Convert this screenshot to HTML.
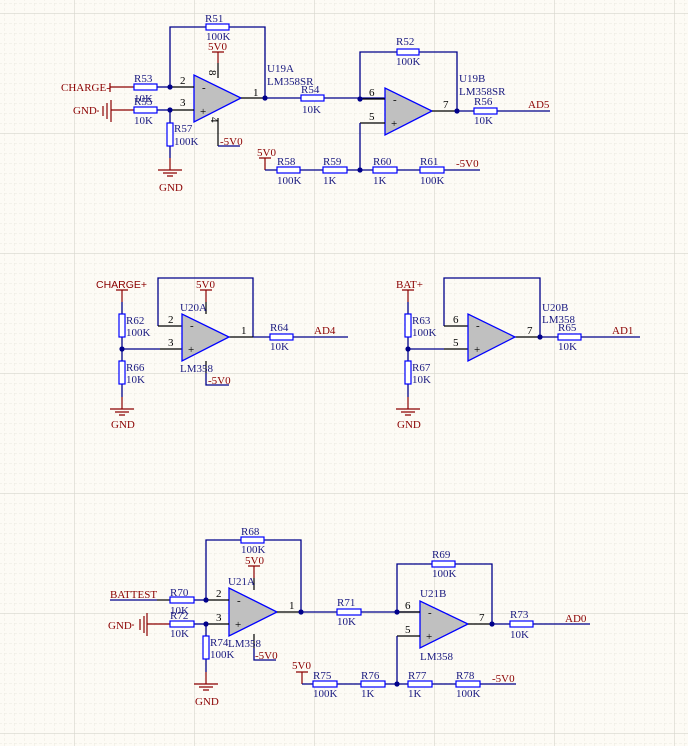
<!DOCTYPE html>
<html><head><meta charset="utf-8"><style>
html,body{margin:0;padding:0;background:#fdfbf5}
svg{display:block}
.w{stroke:#00008b;stroke-width:1.3;fill:none}
.p{stroke:#000;stroke-width:1.2;fill:none}
.r{stroke:#8b0000;stroke-width:1.2;fill:none}
.res{fill:#fff;stroke:#0000ff;stroke-width:1.2}
.oa{fill:#c0c0c0;stroke:#0000ff;stroke-width:1.3}
.t{font-family:"Liberation Serif",serif;font-size:11px;fill:#1a1a80}
.rt{font-family:"Liberation Serif",serif;font-size:11px;fill:#8b0000}
.pt{font-family:"Liberation Serif",serif;font-size:11px;fill:#000}
.d{fill:#00008b}
</style></head><body>
<svg width="688" height="746" viewBox="0 0 688 746" xmlns="http://www.w3.org/2000/svg">
<defs>
<pattern id="mn" x="4" y="3" width="10" height="10" patternUnits="userSpaceOnUse">
<path d="M0 0H10M0 0V10" stroke="#ece9df" stroke-width="1" stroke-dasharray="3,2" fill="none"/>
</pattern>
<pattern id="mj" x="74" y="13" width="120" height="120" patternUnits="userSpaceOnUse">
<path d="M0 0H120M0 0V120" stroke="#d6d5cc" stroke-width="1.2" fill="none"/>
</pattern>
</defs>
<rect width="688" height="746" fill="#fdfbf5"/>
<rect width="688" height="746" fill="url(#mn)"/>
<rect width="688" height="746" fill="url(#mj)"/>

<!-- ===== SECTION 1 ===== -->
<!-- U19A -->
<path class="w" d="M170 87V27H265V98"/>
<rect class="res" x="206" y="24" width="23" height="6"/>
<text class="t" x="205" y="22">R51</text><text class="t" x="206" y="40">100K</text>
<text class="rt" x="208" y="50">5V0</text>
<path class="r" d="M212 52H224M218 52V63"/><path class="p" d="M218 63V78"/>
<text class="pt" transform="translate(209,70) rotate(90)">8</text>
<polygon class="oa" points="194,75 194,122 241,98"/>
<text class="pt" x="202" y="91">-</text><text class="pt" x="200" y="115">+</text>
<path class="p" d="M170 87H194M170 110H194M241 98H265M218 118V146"/>
<path class="w" d="M218 146H240"/>
<text class="pt" transform="translate(211,117) rotate(90)">4</text>
<text class="rt" x="220" y="145">-5V0</text>
<text class="pt" x="180" y="84">2</text><text class="pt" x="180" y="106">3</text><text class="pt" x="253" y="96">1</text>
<text class="rt" x="61" y="91" style="font-family:'Liberation Serif',serif">CHARGE-</text>
<path class="r" d="M110 83V92M110 87H134"/>
<path class="w" d="M157 87H170"/>
<rect class="res" x="134" y="84" width="23" height="6"/>
<text class="t" x="134" y="82">R53</text><text class="t" x="134" y="102">10K</text>
<text class="rt" x="73" y="114">GND</text>
<circle cx="98" cy="111" r="0.8" fill="#8b0000"/>
<path class="r" d="M103 106V116M107 103V119M111 100V122M111 110H134"/>
<path class="w" d="M157 110H170"/>
<rect class="res" x="134" y="107" width="23" height="6"/>
<text class="t" x="134" y="105">R55</text><text class="t" x="134" y="124">10K</text>
<circle class="d" cx="170" cy="87" r="2.6"/><circle class="d" cx="170" cy="110" r="2.6"/>
<path class="w" d="M170 110V123M170 146V158"/><path class="r" d="M170 158V170M158 170H182M163 173H177M167 176H173"/>
<rect class="res" x="167" y="123" width="6" height="23"/>
<text class="t" x="174" y="132">R57</text><text class="t" x="174" y="145">100K</text>
<text class="rt" x="159" y="191">GND</text>
<!-- output to U19B -->
<path class="w" d="M265 98H301M324 98H385"/>
<circle class="d" cx="265" cy="98" r="2.6"/>
<rect class="res" x="301" y="95" width="23" height="6"/>
<text class="t" x="267" y="72">U19A</text><text class="t" x="267" y="85">LM358SR</text>
<text class="t" x="301" y="93">R54</text><text class="t" x="302" y="113">10K</text>
<!-- U19B -->
<path class="w" d="M360 99V52H457V111"/>
<rect class="res" x="397" y="49" width="22" height="6"/>
<text class="t" x="396" y="45">R52</text><text class="t" x="396" y="65">100K</text>
<polygon class="oa" points="385,88 385,135 432,111"/>
<text class="pt" x="393" y="103">-</text><text class="pt" x="391" y="127">+</text>
<path class="p" d="M360 99H385M360 123H385M432 111H457"/>
<path class="w" d="M360 123V170"/>
<circle class="d" cx="360" cy="99" r="2.6"/><circle class="d" cx="457" cy="111" r="2.6"/>
<text class="pt" x="369" y="96">6</text><text class="pt" x="369" y="120">5</text><text class="pt" x="443" y="108">7</text>
<text class="t" x="459" y="82">U19B</text><text class="t" x="459" y="95">LM358SR</text>
<path class="w" d="M457 111H474M497 111H550"/>
<rect class="res" x="474" y="108" width="23" height="6"/>
<text class="t" x="474" y="105">R56</text><text class="t" x="474" y="124">10K</text>
<text class="rt" x="528" y="108">AD5</text>
<text class="rt" x="257" y="156">5V0</text>
<path class="r" d="M259 158H271M265 158V170"/>
<path class="w" d="M265 170H480"/>
<rect class="res" x="277" y="167" width="23" height="6"/>
<rect class="res" x="323" y="167" width="24" height="6"/>
<rect class="res" x="373" y="167" width="24" height="6"/>
<rect class="res" x="420" y="167" width="24" height="6"/>
<circle class="d" cx="360" cy="170" r="2.6"/>
<text class="t" x="277" y="165">R58</text><text class="t" x="277" y="184">100K</text>
<text class="t" x="323" y="165">R59</text><text class="t" x="323" y="184">1K</text>
<text class="t" x="373" y="165">R60</text><text class="t" x="373" y="184">1K</text>
<text class="t" x="420" y="165">R61</text><text class="t" x="420" y="184">100K</text>
<text class="rt" x="456" y="167">-5V0</text>

<!-- ===== SECTION 2 ===== -->
<text class="rt" x="96" y="288" style="font-family:'Liberation Sans',sans-serif;font-size:10.5px">CHARGE+</text>
<path class="r" d="M116 290H128M122 290V302"/>
<path class="w" d="M122 302V314M122 337V361M122 384V397"/>
<path class="r" d="M122 397V409M110 409H134M115 412H129M119 415H125"/>
<rect class="res" x="119" y="314" width="6" height="23"/>
<rect class="res" x="119" y="361" width="6" height="23"/>
<circle class="d" cx="122" cy="349" r="2.6"/>
<text class="t" x="126" y="324">R62</text><text class="t" x="126" y="336">100K</text>
<text class="t" x="126" y="371">R66</text><text class="t" x="126" y="383">10K</text>
<text class="rt" x="111" y="428">GND</text>
<path class="w" d="M122 349H160M158 326V278H253V337"/>
<path class="p" d="M160 349H182M158 326H182M229 337H253M206 302V314M206 361V373"/>
<polygon class="oa" points="182,314 182,361 229,337"/>
<text class="pt" x="190" y="329">-</text><text class="pt" x="188" y="353">+</text>
<text class="rt" x="196" y="288">5V0</text>
<path class="r" d="M200 290H212M206 290V302"/>
<path class="w" d="M206 373V385H229"/>
<text class="rt" x="208" y="384">-5V0</text>
<text class="pt" x="168" y="323">2</text><text class="pt" x="168" y="346">3</text><text class="pt" x="241" y="334">1</text>
<text class="t" x="180" y="311">U20A</text><text class="t" x="180" y="372">LM358</text>
<path class="w" d="M253 337H270M293 337H348"/>
<rect class="res" x="270" y="334" width="23" height="6"/>
<text class="t" x="270" y="331">R64</text><text class="t" x="270" y="350">10K</text>
<text class="rt" x="314" y="334">AD4</text>

<text class="rt" x="396" y="288">BAT+</text>
<path class="r" d="M402 290H414M408 290V302"/>
<path class="w" d="M408 302V314M408 337V361M408 384V397"/>
<path class="r" d="M408 397V409M396 409H420M401 412H415M405 415H411"/>
<rect class="res" x="405" y="314" width="6" height="23"/>
<rect class="res" x="405" y="361" width="6" height="23"/>
<circle class="d" cx="408" cy="349" r="2.6"/>
<text class="t" x="412" y="324">R63</text><text class="t" x="412" y="336">100K</text>
<text class="t" x="412" y="371">R67</text><text class="t" x="412" y="383">10K</text>
<text class="rt" x="397" y="428">GND</text>
<path class="w" d="M408 349H444M444 326V278H540V337"/>
<path class="p" d="M444 349H468M444 326H468M515 337H540"/>
<polygon class="oa" points="468,314 468,361 515,337"/>
<text class="pt" x="476" y="329">-</text><text class="pt" x="474" y="353">+</text>
<text class="pt" x="453" y="323">6</text><text class="pt" x="453" y="346">5</text><text class="pt" x="527" y="334">7</text>
<circle class="d" cx="540" cy="337" r="2.6"/>
<text class="t" x="542" y="311">U20B</text><text class="t" x="542" y="323">LM358</text>
<path class="w" d="M540 337H558M581 337H640"/>
<rect class="res" x="558" y="334" width="23" height="6"/>
<text class="t" x="558" y="331">R65</text><text class="t" x="558" y="350">10K</text>
<text class="rt" x="612" y="334">AD1</text>

<!-- ===== SECTION 3 ===== -->
<path class="w" d="M206 600V540H301V612"/>
<rect class="res" x="241" y="537" width="23" height="6"/>
<text class="t" x="241" y="535">R68</text><text class="t" x="241" y="553">100K</text>
<text class="rt" x="245" y="564">5V0</text>
<path class="r" d="M248 566H260M254 566V578"/><path class="p" d="M254 578V590M254 634V648"/>
<polygon class="oa" points="229,588 229,636 277,612"/>
<text class="pt" x="237" y="604">-</text><text class="pt" x="235" y="628">+</text>
<path class="p" d="M206 600H229M206 624H229M277 612H301"/>
<path class="w" d="M254 648V660H276"/>
<text class="rt" x="255" y="659">-5V0</text>
<text class="pt" x="216" y="597">2</text><text class="pt" x="216" y="621">3</text><text class="pt" x="289" y="609">1</text>
<text class="t" x="228" y="585">U21A</text><text class="t" x="228" y="647">LM358</text>
<text class="rt" x="110" y="598">BATTEST</text>
<path class="w" d="M110 600H157"/><path class="p" d="M157 600H170"/><path class="w" d="M194 600H206"/>
<rect class="res" x="170" y="597" width="24" height="6"/>
<text class="t" x="170" y="596">R70</text><text class="t" x="170" y="614">10K</text>
<text class="rt" x="108" y="629">GND</text>
<circle cx="133" cy="625" r="0.8" fill="#8b0000"/>
<path class="r" d="M140 619V630M144 616V633M147 613V636M147 624H170"/>
<path class="w" d="M194 624H206"/>
<rect class="res" x="170" y="621" width="24" height="6"/>
<text class="t" x="170" y="619">R72</text><text class="t" x="170" y="637">10K</text>
<circle class="d" cx="206" cy="600" r="2.6"/><circle class="d" cx="206" cy="624" r="2.6"/>
<path class="w" d="M206 624V636M206 659V672"/>
<path class="r" d="M206 672V684M194 684H218M199 687H213M203 690H209"/>
<rect class="res" x="203" y="636" width="6" height="23"/>
<text class="t" x="210" y="646">R74</text><text class="t" x="210" y="658">100K</text>
<text class="rt" x="195" y="705">GND</text>
<path class="w" d="M301 612H337M361 612H420"/>
<circle class="d" cx="301" cy="612" r="2.6"/>
<rect class="res" x="337" y="609" width="24" height="6"/>
<text class="t" x="337" y="606">R71</text><text class="t" x="337" y="625">10K</text>
<path class="w" d="M397 612V564H492V624"/>
<rect class="res" x="432" y="561" width="23" height="6"/>
<text class="t" x="432" y="558">R69</text><text class="t" x="432" y="577">100K</text>
<polygon class="oa" points="420,601 420,648 468,624"/>
<text class="pt" x="428" y="616">-</text><text class="pt" x="426" y="640">+</text>
<path class="p" d="M397 612H420M397 636H420M468 624H492"/>
<path class="w" d="M397 636V684"/>
<circle class="d" cx="397" cy="612" r="2.6"/><circle class="d" cx="492" cy="624" r="2.6"/>
<text class="pt" x="405" y="609">6</text><text class="pt" x="405" y="633">5</text><text class="pt" x="479" y="621">7</text>
<text class="t" x="420" y="597">U21B</text><text class="t" x="420" y="660">LM358</text>
<path class="w" d="M492 624H510M533 624H590"/>
<rect class="res" x="510" y="621" width="23" height="6"/>
<text class="t" x="510" y="618">R73</text><text class="t" x="510" y="638">10K</text>
<text class="rt" x="565" y="622">AD0</text>
<text class="rt" x="292" y="669">5V0</text>
<path class="r" d="M296 672H308M302 672V684"/>
<path class="w" d="M302 684H516"/>
<rect class="res" x="313" y="681" width="24" height="6"/>
<rect class="res" x="361" y="681" width="24" height="6"/>
<rect class="res" x="408" y="681" width="24" height="6"/>
<rect class="res" x="456" y="681" width="24" height="6"/>
<circle class="d" cx="397" cy="684" r="2.6"/>
<text class="t" x="313" y="679">R75</text><text class="t" x="313" y="697">100K</text>
<text class="t" x="361" y="679">R76</text><text class="t" x="361" y="697">1K</text>
<text class="t" x="408" y="679">R77</text><text class="t" x="408" y="697">1K</text>
<text class="t" x="456" y="679">R78</text><text class="t" x="456" y="697">100K</text>
<text class="rt" x="492" y="682">-5V0</text>
</svg>
</body></html>
